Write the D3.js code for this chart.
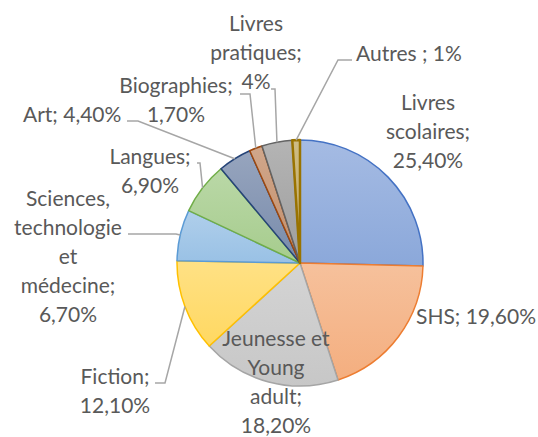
<!DOCTYPE html>
<html>
<head>
<meta charset="utf-8">
<script src="https://cdn.jsdelivr.net/npm/d3@7"></script>
<style>
  html, body { margin: 0; padding: 0; background: #fff; }
  #pieChart { width: 538px; height: 437px; }
  .slice-label { font-family: Lato, 'Open Sans', sans-serif; font-size: 21px; fill: #595959; }
  .leader { fill: none; stroke: #a6a6a6; stroke-width: 1.5; }
</style>
</head>
<body>
<div id="pieChart"></div>
<script>
// chart data
const categories = ['Livres scolaires', 'SHS', 'Jeunesse et Young adult', 'Fiction',
  'Sciences, technologie et médecine', 'Langues', 'Art', 'Biographies', 'Livres pratiques', 'Autres'];
const shares = [25.4, 19.6, 18.2, 12.1, 6.7, 6.9, 4.4, 1.7, 4, 1];
const labelTexts = [
  ['Livres', 'scolaires;', '25,40%'],
  ['SHS; 19,60%'],
  ['Jeunesse et', 'Young', 'adult;', '18,20%'],
  ['Fiction;', '12,10%'],
  ['Sciences,', 'technologie', 'et', 'médecine;', '6,70%'],
  ['Langues;', '6,90%'],
  ['Art; 4,40%'],
  ['Biographies;', '1,70%'],
  ['Livres', 'pratiques;', '4%'],
  ['Autres ; 1%']
];
const sliceColors = ['#4472C4', '#ED7D31', '#A5A5A5', '#FFC000', '#5B9BD5',
  '#70AD47', '#264478', '#9E480E', '#636363', '#997300'];

// label placement (x, first baseline, anchor, leader elbow)
const labelLayout = [
  { x: 428, y: 110, anchor: 'middle', leader: null },
  { x: 416, y: 324, anchor: 'start', leader: null },
  { x: 276, y: 346, anchor: 'middle', leader: null },
  { x: 115, y: 384, anchor: 'middle', leader: [[155, 383], [165, 383]] },
  { x: 68, y: 206, anchor: 'middle', leader: [[128, 234], [176, 234]] },
  { x: 150, y: 164, anchor: 'middle', leader: [[197, 163], [200, 163]] },
  { x: 23, y: 122, anchor: 'start', leader: [[127, 121], [138, 121]] },
  { x: 176, y: 93, anchor: 'middle', leader: [[240, 94], [250, 94]] },
  { x: 256, y: 31, anchor: 'middle', leader: [[271, 89], [275, 89]] },
  { x: 356, y: 61, anchor: 'start', leader: [[352, 60], [338, 60]] }
];

const width = 538;
const height = 437;
const center = { x: 300, y: 263 };
const radius = 123;
const lineHeight = 29;

const svg = d3.select('#pieChart')
  .append('svg')
    .attr('width', width)
    .attr('height', height);

const defs = svg.append('defs');

const dataset = categories.map((name, i) => ({ name: name, value: shares[i], index: i }));

// lighter at the top, a bit deeper at the bottom of each slice
dataset.forEach((d) => {
  const grad = defs.append('linearGradient')
    .attr('id', 'grad' + d.index)
    .attr('x1', 0).attr('y1', 0)
    .attr('x2', 0).attr('y2', 1);
  grad.append('stop')
    .attr('offset', '0%')
    .attr('stop-color', d3.interpolateRgb(sliceColors[d.index], '#ffffff')(0.52));
  grad.append('stop')
    .attr('offset', '100%')
    .attr('stop-color', d3.interpolateRgb(sliceColors[d.index], '#ffffff')(0.38));
});

const pie = d3.pie()
  .sort(null)
  .value((d) => d.value);

const arc = d3.arc()
  .innerRadius(0)
  .outerRadius(radius);

const arcs = pie(dataset);

const pieGroup = svg.append('g')
  .attr('class', 'pie')
  .attr('transform', 'translate(' + center.x + ',' + center.y + ')');

pieGroup.selectAll('path')
  .data(arcs)
  .enter()
    .append('path')
      .attr('d', arc)
      .attr('fill', (d) => 'url(#grad' + d.data.index + ')')
      .attr('stroke', (d) => sliceColors[d.data.index])
      .attr('stroke-width', (d) => d.data.index === 9 ? 2.5 : 1.5)
      .attr('stroke-linejoin', 'round');

// leader lines: elbow -> outer arc point at slice mid angle
const leaderLine = d3.line();
svg.append('g')
  .attr('class', 'leaders')
  .selectAll('path')
  .data(arcs.filter((d) => labelLayout[d.data.index].leader))
  .enter()
    .append('path')
      .attr('class', 'leader')
      .attr('d', (d) => {
        const mid = (d.startAngle + d.endAngle) / 2;
        const end = [center.x + radius * Math.sin(mid), center.y - radius * Math.cos(mid)];
        return leaderLine(labelLayout[d.data.index].leader.concat([end]));
      });

const labels = svg.append('g')
  .attr('class', 'labels')
  .selectAll('text')
  .data(dataset)
  .enter()
    .append('text')
      .attr('class', 'slice-label')
      .attr('text-anchor', (d) => labelLayout[d.index].anchor);

labels.selectAll('tspan')
  .data((d) => labelTexts[d.index].map((line, j) => ({ line: line, j: j, layout: labelLayout[d.index] })))
  .enter()
    .append('tspan')
      .attr('x', (t) => t.layout.x)
      .attr('y', (t) => t.layout.y + t.j * lineHeight)
      .text((t) => t.line);
</script>
</body>
</html>
